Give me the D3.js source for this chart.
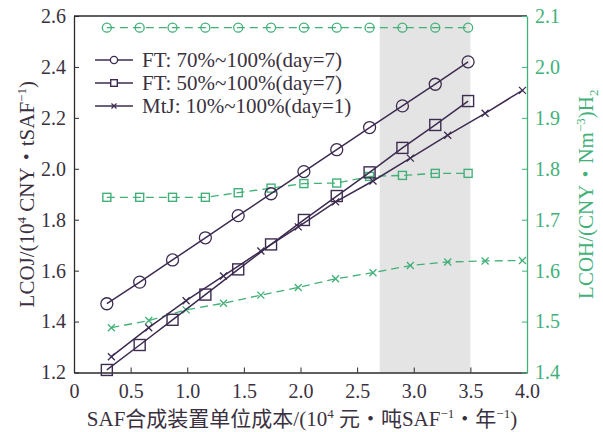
<!DOCTYPE html>
<html>
<head>
<meta charset="utf-8">
<script src="https://cdn.jsdelivr.net/npm/d3@7"></script>
<style>
  html, body { margin: 0; padding: 0; background: #fff; }
  svg { display: block; }
  text { font-family: "Liberation Serif", "Times New Roman", "Noto Sans CJK SC", serif; }
</style>
</head>
<body>
<svg id="chart" width="603" height="432"></svg>
<script>
// x positions of the cases
const xFT = [0.29, 0.58, 0.87, 1.16, 1.45, 1.74, 2.03, 2.32, 2.61, 2.90, 3.19, 3.48];
const xMtJ = [0.33, 0.66, 0.99, 1.32, 1.65, 1.98, 2.31, 2.64, 2.97, 3.30, 3.63, 3.96];

// LCOJ (left axis)
const lcojFT70 = [1.470, 1.555, 1.642, 1.729, 1.816, 1.902, 1.989, 2.075, 2.162, 2.247, 2.332, 2.420];
const lcojFT50 = [1.210, 1.308, 1.407, 1.506, 1.605, 1.703, 1.799, 1.893, 1.986, 2.082, 2.172, 2.266];
const lcojMtJ = [1.262, 1.376, 1.482, 1.579, 1.677, 1.772, 1.870, 1.952, 2.042, 2.132, 2.218, 2.308];

// LCOH (right axis)
const lcohFT70 = [2.077, 2.077, 2.077, 2.077, 2.077, 2.077, 2.077, 2.077, 2.077, 2.077, 2.077, 2.077];
const lcohFT50 = [1.744, 1.744, 1.744, 1.744, 1.753, 1.762, 1.771, 1.772, 1.785, 1.787, 1.791, 1.791];
const lcohMtJ = [1.488, 1.502, 1.523, 1.536, 1.552, 1.567, 1.584, 1.596, 1.610, 1.617, 1.619, 1.620];

const legendLabels = ["FT: 70%~100%(day=7)", "FT: 50%~100%(day=7)", "MtJ: 10%~100%(day=1)"];
const band = [2.7, 3.5];

const xTicks = [0, 0.5, 1.0, 1.5, 2.0, 2.5, 3.0, 3.5, 4.0];
const yLeftTicks = [1.2, 1.4, 1.6, 1.8, 2.0, 2.2, 2.4, 2.6];
const yRightTicks = [1.4, 1.5, 1.6, 1.7, 1.8, 1.9, 2.0, 2.1];

const purple = "#3d2b50";
const green = "#42b078";
const axisDark = "#2b2b2b";
const textDark = "#3a3140";

const svg = d3.select("#chart");
const mLeft = 74, mRight = 527, mTop = 16, mBottom = 372.5;

const x = d3.scaleLinear().domain([0, 4]).range([mLeft, mRight]);
const yL = d3.scaleLinear().domain([1.2, 2.6]).range([mBottom, mTop]);
const yR = d3.scaleLinear().domain([1.4, 2.1]).range([mBottom, mTop]);

// shaded band
svg.append("rect")
  .attr("x", x(band[0])).attr("y", mTop)
  .attr("width", x(band[1]) - x(band[0]))
  .attr("height", mBottom - mTop)
  .attr("fill", "#e4e4e4");

// axes
const fmt = d => d === 0 ? "0" : d3.format(".1f")(d);

const gx = svg.append("g").attr("transform", `translate(0,${mBottom})`)
  .call(d3.axisBottom(x).tickValues(xTicks).tickFormat(fmt).tickSizeInner(-5).tickSizeOuter(0).tickPadding(11));
gx.select(".domain").attr("stroke", axisDark).attr("stroke-width", 1.3);
gx.selectAll(".tick line").attr("stroke", axisDark);
gx.selectAll("text").attr("font-size", 20).attr("fill", textDark);

const gl = svg.append("g").attr("transform", `translate(${mLeft},0)`)
  .call(d3.axisLeft(yL).tickValues(yLeftTicks).tickFormat(d3.format(".1f")).tickSizeInner(-5).tickSizeOuter(0).tickPadding(8));
gl.select(".domain").attr("stroke", axisDark).attr("stroke-width", 1.3);
gl.selectAll(".tick line").attr("stroke", axisDark);
gl.selectAll("text").attr("font-size", 20).attr("fill", textDark);

// top border
svg.append("line")
  .attr("x1", mLeft).attr("x2", mRight).attr("y1", mTop).attr("y2", mTop)
  .attr("stroke", axisDark).attr("stroke-width", 1.3);

const gr = svg.append("g").attr("transform", `translate(${mRight},0)`)
  .call(d3.axisRight(yR).tickValues(yRightTicks).tickFormat(d3.format(".1f")).tickSizeInner(-5).tickSizeOuter(0).tickPadding(8));
gr.select(".domain").attr("stroke", green).attr("stroke-width", 1.3);
gr.selectAll(".tick line").attr("stroke", green);
gr.selectAll("text").attr("font-size", 20).attr("fill", green);

// markers
function marker(g, type, cx, cy, size, color, fill) {
  if (type === "circle") {
    g.append("circle").attr("cx", cx).attr("cy", cy).attr("r", size)
      .attr("fill", fill).attr("stroke", color).attr("stroke-width", 1.3);
  } else if (type === "square") {
    g.append("rect").attr("x", cx - size).attr("y", cy - size)
      .attr("width", size * 2).attr("height", size * 2)
      .attr("fill", fill).attr("stroke", color).attr("stroke-width", 1.4);
  } else {
    g.append("path")
      .attr("d", `M${cx - size},${cy - size}L${cx + size},${cy + size}M${cx - size},${cy + size}L${cx + size},${cy - size}`)
      .attr("stroke", color).attr("stroke-width", 1.3).attr("fill", "none");
  }
}

function series(xs, ys, yScale, type, opts) {
  const pts = xs.map((d, i) => [x(d), yScale(ys[i])]);
  const g = svg.append("g");
  g.append("path")
    .attr("d", d3.line()(pts))
    .attr("fill", "none")
    .attr("stroke", opts.color)
    .attr("stroke-width", opts.width)
    .attr("stroke-dasharray", opts.dash || null);
  pts.forEach(p => marker(g, type, p[0], p[1], opts.size, opts.color, opts.fill));
}

// LCOH dashed green
const gOpts = { color: green, width: 1.3, dash: "8,5", fill: "none" };
series(xFT, lcohFT70, yR, "circle", { ...gOpts, size: 4.5 });
series(xFT, lcohFT50, yR, "square", { ...gOpts, size: 4 });
series(xMtJ, lcohMtJ, yR, "cross", { ...gOpts, size: 3.5 });

// LCOJ solid purple
const pOpts = { color: purple, width: 1.5, fill: "none" };
series(xFT, lcojFT70, yL, "circle", { ...pOpts, size: 6 });
series(xFT, lcojFT50, yL, "square", { ...pOpts, size: 5.5 });
series(xMtJ, lcojMtJ, yL, "cross", { ...pOpts, size: 3.5 });

// legend
const types = ["circle", "square", "cross"];
const sizes = [3.6, 3.3, 2.5];
const leg = svg.append("g");
legendLabels.forEach((lab, i) => {
  const yy = 60 + i * 23;
  leg.append("line").attr("x1", 95).attr("x2", 133).attr("y1", yy).attr("y2", yy)
    .attr("stroke", purple).attr("stroke-width", 1.5);
  marker(leg, types[i], 114, yy, sizes[i], purple, "#fff");
  leg.append("text").attr("x", 142).attr("y", yy + 7)
    .attr("font-size", 21).attr("fill", textDark).text(lab);
});

// axis titles
const yLab = svg.append("text")
  .attr("transform", `translate(34,${(mTop + mBottom) / 2}) rotate(-90)`)
  .attr("text-anchor", "middle").attr("font-size", 21).attr("fill", textDark);
yLab.append("tspan").text("LCOJ/(10");
yLab.append("tspan").attr("dy", -8).attr("font-size", 13).text("4");
yLab.append("tspan").attr("dy", 8).text(" CNY・tSAF");
yLab.append("tspan").attr("dy", -8).attr("font-size", 13).text("−1");
yLab.append("tspan").attr("dy", 8).text(")");

const rLab = svg.append("text")
  .attr("transform", `translate(593,${(mTop + mBottom) / 2}) rotate(-90)`)
  .attr("text-anchor", "middle").attr("font-size", 21).attr("fill", green);
rLab.append("tspan").text("LCOH/(CNY・Nm");
rLab.append("tspan").attr("dy", -8).attr("font-size", 13).text("−3");
rLab.append("tspan").attr("dy", 8).text(")H");
rLab.append("tspan").attr("dy", 5).attr("font-size", 13).text("2");

const xLab = svg.append("text")
  .attr("x", 302).attr("y", 426)
  .attr("text-anchor", "middle").attr("font-size", 21).attr("fill", textDark);
xLab.append("tspan").text("SAF合成装置单位成本/(10");
xLab.append("tspan").attr("dy", -8).attr("font-size", 13).text("4");
xLab.append("tspan").attr("dy", 8).text(" 元・吨SAF");
xLab.append("tspan").attr("dy", -8).attr("font-size", 13).text("−1");
xLab.append("tspan").attr("dy", 8).text("・年");
xLab.append("tspan").attr("dy", -8).attr("font-size", 13).text("−1");
xLab.append("tspan").attr("dy", 8).text(")");
</script>
</body>
</html>
